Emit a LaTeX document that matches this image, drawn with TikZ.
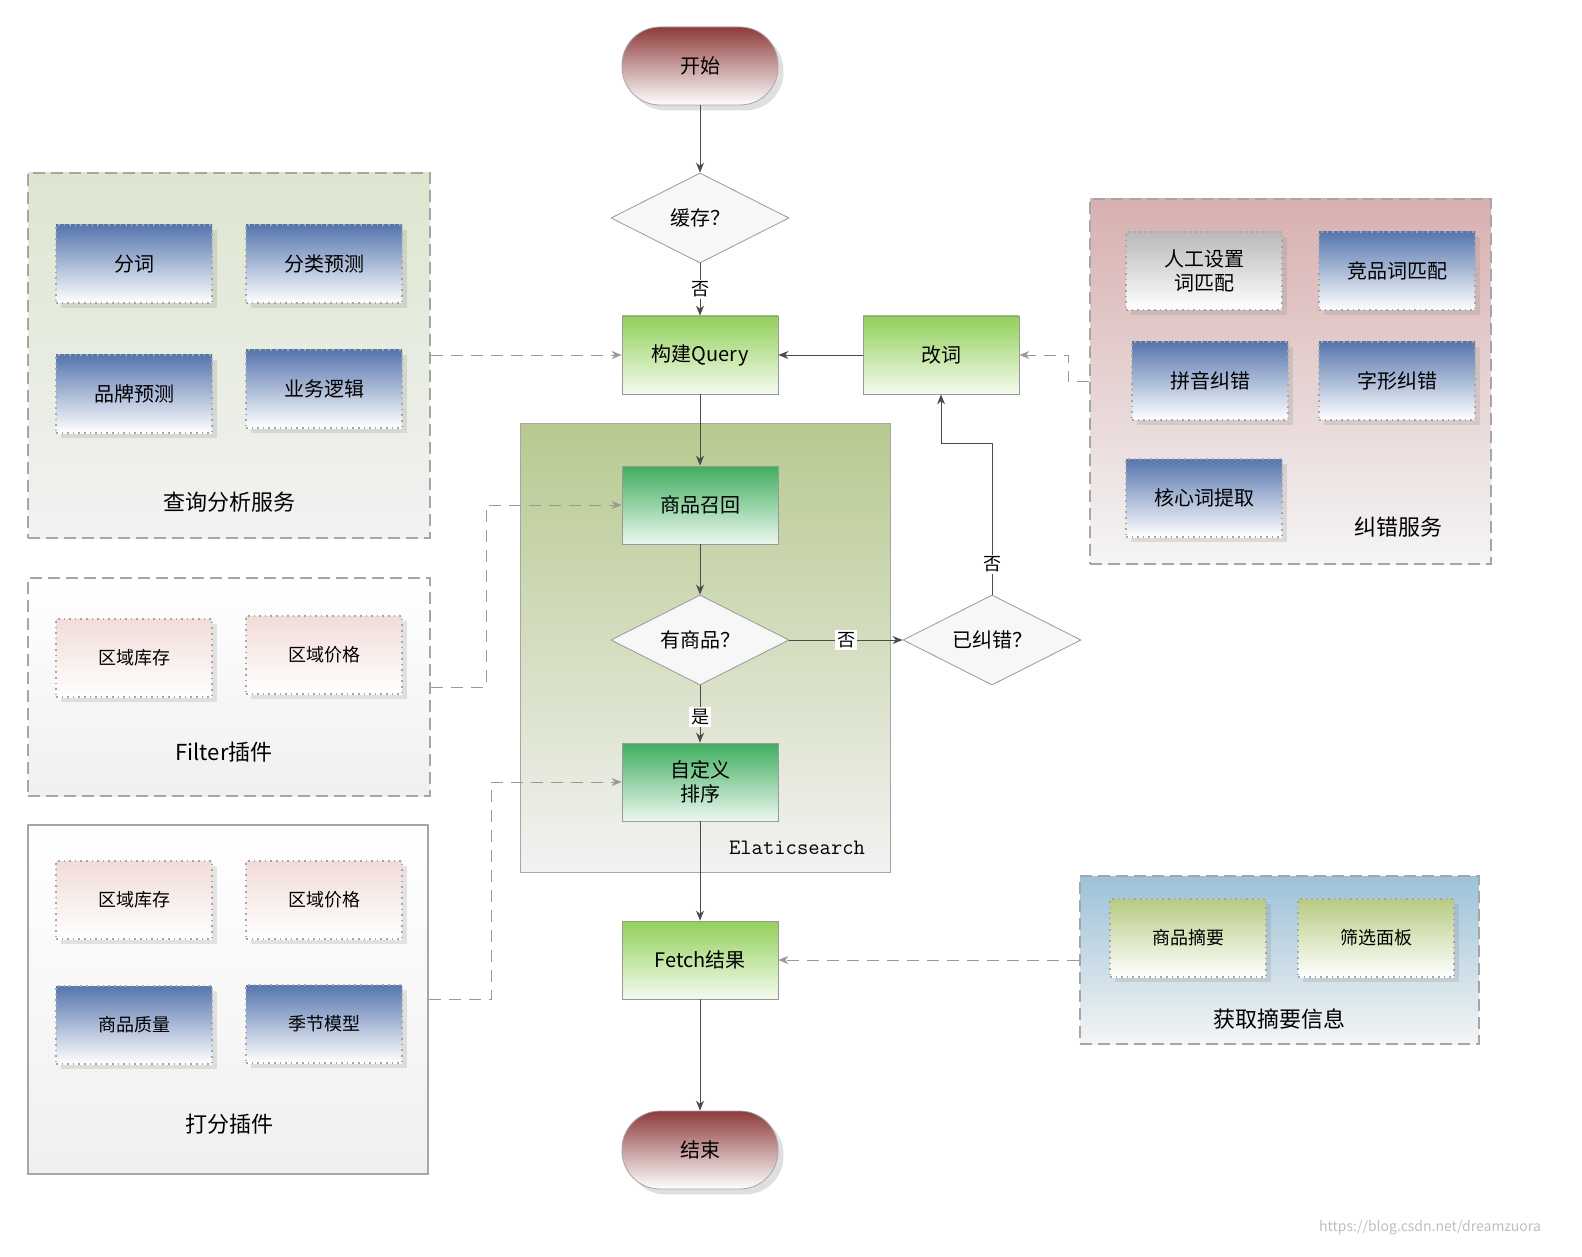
\documentclass[tikz,border=0pt]{standalone}
\usepackage{fontspec}
\setmainfont{Noto Sans CJK SC}
\usetikzlibrary{shapes.geometric,shadows,arrows.meta}
\definecolor{pillT}{HTML}{8E3B3B}
\definecolor{gT}{HTML}{92D05A}
\definecolor{ggT}{HTML}{3FAE5E}
\definecolor{bT}{HTML}{5676AE}
\definecolor{pkT}{HTML}{F2DCD8}
\definecolor{olT}{HTML}{B7CB82}
\definecolor{esT}{HTML}{B7C98F}
\definecolor{g1T}{HTML}{DCE6CF}
\definecolor{g4T}{HTML}{D8B0B0}
\definecolor{g5T}{HTML}{9CC2D8}
\tikzset{
 x=0.5pt,y=-0.5pt,
 base/.style={font=\fontsize{10}{12}\selectfont,align=center,inner sep=1pt},
 pill/.style={base,rounded corners=19pt,minimum width=78pt,minimum height=39pt,draw=gray!70,top color=pillT,bottom color=white,drop shadow={opacity=0.25}},
 proc/.style={base,minimum width=78pt,minimum height=39pt,draw=gray!80,top color=gT,bottom color=white!90!gT},
 procd/.style={proc,top color=ggT,bottom color=white!90!ggT},
 dia/.style={base,diamond,aspect=2,minimum width=89pt,minimum height=45pt,draw=gray!80,fill=gray!6},
 sub/.style={base,minimum width=78pt,minimum height=39pt,draw=gray!70,dotted,thick,top color=bT,bottom color=white,drop shadow={opacity=0.2}},
 subp/.style={sub,top color=pkT,bottom color=white,font=\fontsize{9}{11}\selectfont},
 subb/.style={sub,font=\fontsize{9}{11}\selectfont},
 subg/.style={sub,top color=gray!55,bottom color=white},
 subo/.style={sub,top color=olT,bottom color=white,font=\fontsize{9}{11}\selectfont},
 grp/.style={draw=gray!70,dashed,thick,dash pattern=on 6pt off 3pt},
 arr/.style={draw=gray!60!black,-{Stealth[length=5pt,width=4pt]}},
 darr/.style={arr,dash pattern=on 6pt off 4pt,draw=gray!80},
 lbl/.style={base,fill=white,inner sep=1pt,font=\fontsize{9}{11}\selectfont},
 glbl/.style={base,font=\fontsize{11}{13}\selectfont},
}
\begin{document}
\begin{tikzpicture}
\useasboundingbox[fill=white] (0,0) rectangle (1582,1256);
% groups
\node[grp,minimum width=201pt,minimum height=182.5pt,top color=g1T,bottom color=gray!10] (g1) at (229,355.5) {};
\node[grp,minimum width=201pt,minimum height=109pt,top color=white,bottom color=gray!12] (g2) at (229,687) {};
\node[draw=gray!70,thick,minimum width=200pt,minimum height=174.5pt,top color=white,bottom color=gray!12] (g3) at (228,999.5) {};
\node[grp,minimum width=200.5pt,minimum height=182.5pt,top color=g4T,bottom color=gray!8] (g4) at (1290.5,381.5) {};
\node[grp,minimum width=199.5pt,minimum height=84pt,top color=g5T,bottom color=gray!8] (g5) at (1279.5,960) {};
\node[draw=gray!70,minimum width=185pt,minimum height=224.5pt,top color=esT,bottom color=gray!10] (es) at (705,647.5) {};
\node[base,font=\ttfamily\fontsize{11}{13}\selectfont] at (797,848) {Elaticsearch};
% group contents
\node[sub] (a1) at (134,264) {分词};
\node[sub] (a2) at (324,264) {分类预测};
\node[sub] (a3) at (134,394) {品牌预测};
\node[sub] (a4) at (324,389) {业务逻辑};
\node[glbl] at (229,502) {查询分析服务};
\node[subp] (b1) at (134,658) {区域库存};
\node[subp] (b2) at (324,655) {区域价格};
\node[glbl] at (224,752) {Filter插件};
\node[subp] (c1) at (134,900) {区域库存};
\node[subp] (c2) at (324,900) {区域价格};
\node[subb] (c3) at (134,1025) {商品质量};
\node[subb] (c4) at (324,1024) {季节模型};
\node[glbl] at (229,1124) {打分插件};
\node[subg] (d1) at (1204,271) {人工设置\\词匹配};
\node[sub] (d2) at (1397,271) {竞品词匹配};
\node[sub] (d3) at (1210,381) {拼音纠错};
\node[sub] (d4) at (1397,381) {字形纠错};
\node[sub] (d5) at (1204,498) {核心词提取};
\node[glbl] at (1398,527) {纠错服务};
\node[subo] (e1) at (1188,938) {商品摘要};
\node[subo] (e2) at (1376,938) {筛选面板};
\node[glbl] at (1279,1019) {获取摘要信息};
% main flow
\node[pill] (start) at (700,66) {开始};
\node[dia] (cache) at (700,218) {缓存？};
\node[proc] (q) at (700,355) {构建Query};
\node[proc] (rw) at (941,355) {改词};
\node[procd] (recall) at (700,505) {商品召回};
\node[dia] (has) at (700,640) {有商品？};
\node[dia] (fixed) at (992,640) {已纠错？};
\node[procd] (sort) at (700,782) {自定义\\排序};
\node[proc] (fetch) at (700,960) {Fetch结果};
\node[pill] (end) at (700,1150) {结束};
\node[base,font=\fontsize{7}{8}\selectfont,text=gray!50] at (1430,1228) {https://blog.csdn.net/dreamzuora};
% connectors
\draw[arr] (start) -- (cache);
\draw[arr] (cache) -- node[lbl]{否} (q);
\draw[arr] (rw) -- (q);
\draw[arr] (q) -- (recall);
\draw[arr] (recall) -- (has);
\draw[arr] (has) -- node[lbl]{否} (fixed);
\draw[arr] (has) -- node[lbl,pos=0.55]{是} (sort);
\draw[arr] (fixed.north) -- node[lbl,pos=0.2]{否} (992,443) -- (941,443) -- (rw.south);
\draw[arr] (sort) -- (fetch);
\draw[arr] (fetch) -- (end);
\draw[darr] (g1.east |- q) -- (q.west);
\draw[darr] (g2.east) -- (486,687) |- (recall.west);
\draw[darr] (g3.east) -- (491,999.5) |- (sort.west);
\draw[darr] (g4.west) -- (1068,381.5) |- (rw.east);
\draw[darr] (g5.west) -- (fetch.east);
\end{tikzpicture}
\end{document}
